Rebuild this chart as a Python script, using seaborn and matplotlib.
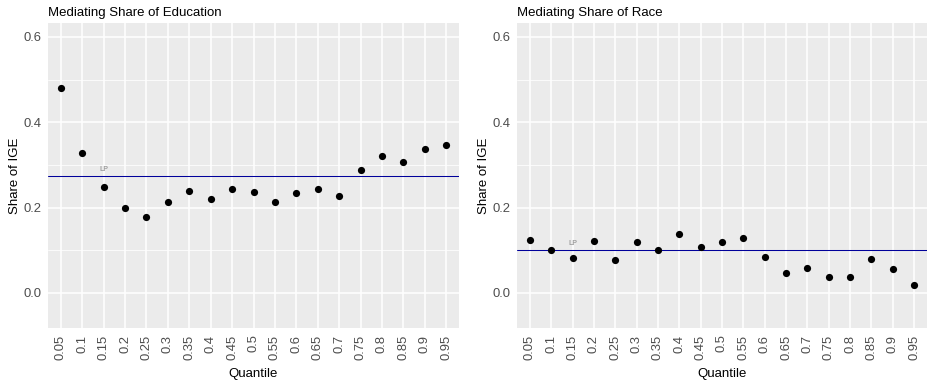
import numpy as np
import pandas as pd
import matplotlib
matplotlib.use("Agg")
import matplotlib.pyplot as plt
import seaborn as sns

# quantile labels and mediating shares
quantiles = ["0.05", "0.1", "0.15", "0.2", "0.25", "0.3", "0.35", "0.4", "0.45", "0.5",
             "0.55", "0.6", "0.65", "0.7", "0.75", "0.8", "0.85", "0.9", "0.95"]
educ_share = [0.481, 0.327, 0.249, 0.199, 0.177, 0.213, 0.238, 0.221, 0.243, 0.237,
              0.214, 0.233, 0.243, 0.226, 0.289, 0.321, 0.307, 0.336, 0.346]
race_share = [0.123, 0.101, 0.081, 0.121, 0.077, 0.119, 0.101, 0.138, 0.108, 0.120,
              0.129, 0.084, 0.046, 0.058, 0.036, 0.037, 0.079, 0.055, 0.018]
educ_lp = 0.274
race_lp = 0.101

sns.set_theme(style="darkgrid")
plt.rcParams["font.family"] = ["Liberation Sans", "DejaVu Sans"]

fig = plt.figure(figsize=(9.27, 3.83), dpi=100)
ax1 = fig.add_axes([0.0518, 0.1436, 0.4434, 0.7963])
ax2 = fig.add_axes([0.5577, 0.1436, 0.4423, 0.7963])

panels = [(ax1, educ_share, educ_lp, "Mediating Share of Education"),
          (ax2, race_share, race_lp, "Mediating Share of Race")]

for ax, vals, lp, title in panels:
    df = pd.DataFrame({"Quantile": quantiles, "Share": vals})
    ax.set_facecolor("#EBEBEB")
    sns.scatterplot(data=df, x="Quantile", y="Share", ax=ax, color="black",
                    s=27, edgecolor="black", linewidth=0, zorder=3)
    ax.axhline(lp, color="#00009A", lw=0.75, zorder=2)
    ax.text(2, lp + 0.006, "LP", color="#A0A0A0", fontsize=5, fontweight="bold",
            ha="center", va="bottom", zorder=2)
    ax.set_xlim(-0.6, len(quantiles) - 0.4)
    ax.set_ylim(-0.0825, 0.6325)
    ax.set_yticks([0.0, 0.2, 0.4, 0.6])
    ax.set_yticklabels(["0.0", "0.2", "0.4", "0.6"])
    ax.set_yticks([0.1, 0.3, 0.5], minor=True)
    ax.grid(which="major", color="white", lw=1.1)
    ax.grid(which="minor", axis="y", color="white", lw=0.55)
    ax.set_axisbelow(True)
    for s in ax.spines.values():
        s.set_visible(False)
    ax.tick_params(axis="both", which="major", length=2.75, width=0.8, color="#333333",
                   labelcolor="#4D4D4D", labelsize=9.4, pad=2)
    ax.tick_params(axis="y", which="minor", length=0)
    ax.tick_params(axis="x", labelrotation=90)
    ax.set_xlabel("Quantile", fontsize=9.5, color="black", labelpad=6)
    ax.set_ylabel("Share of IGE", fontsize=9.5, color="black", labelpad=2)
    ax.set_title(title, loc="left", fontsize=9.5, color="black", pad=5)

fig.savefig("out.png", dpi=100)
